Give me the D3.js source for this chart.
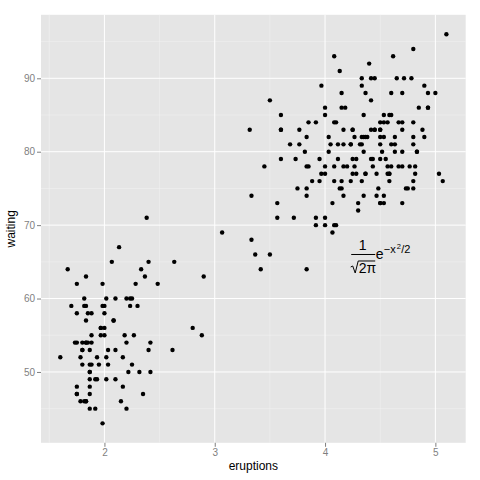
<!DOCTYPE html>
<html>
<head>
<script src="https://cdn.jsdelivr.net/npm/d3@7"></script>
<style>
  body { margin: 0; background: #fff; }
  text { font-family: "Liberation Sans", Arial, sans-serif; }
</style>
</head>
<body>
<script>
// Old Faithful: eruption length (min) and waiting time (min)
const eruptions = [3.600,1.800,3.333,2.283,4.533,2.883,4.700,3.600,1.950,4.350,1.833,3.917,4.200,1.750,4.700,2.167,1.750,4.800,1.600,4.250,
1.800,1.750,3.450,3.067,4.533,3.600,1.967,4.083,3.850,4.433,4.300,4.467,3.367,4.033,3.833,2.017,1.867,4.833,1.833,4.783,
4.350,1.883,4.567,1.750,4.533,3.317,3.833,2.100,4.633,2.000,4.800,4.716,1.833,4.833,1.733,4.883,3.717,1.667,4.567,4.317,
2.233,4.500,1.750,4.800,1.817,4.400,4.167,4.700,2.067,4.700,4.033,1.967,4.500,4.000,1.983,5.067,2.017,4.567,3.883,3.600,
4.133,4.333,4.100,2.633,4.067,4.933,3.950,4.517,2.167,4.000,2.200,4.333,1.867,4.817,1.833,4.300,4.667,3.750,1.867,4.900,
2.483,4.367,2.100,4.500,4.050,1.867,4.700,1.783,4.850,3.683,4.733,2.300,4.900,4.417,1.700,4.633,2.317,4.600,1.817,4.417,
2.617,4.067,4.250,1.967,4.600,3.767,1.917,4.500,2.267,4.650,1.867,4.167,2.800,4.333,1.833,4.383,1.883,4.933,2.033,3.733,
4.233,2.233,4.533,4.817,4.333,1.983,4.633,2.017,5.100,1.800,5.033,4.000,2.400,4.600,3.567,4.000,4.500,4.083,1.800,3.967,
2.200,4.150,2.000,3.833,3.500,4.583,2.367,5.000,1.933,4.617,1.917,2.083,4.583,3.333,4.167,4.333,4.500,2.417,4.000,4.167,
1.883,4.583,4.250,3.767,2.033,4.433,4.083,1.833,4.417,2.183,4.800,1.833,4.800,4.100,3.966,4.233,3.500,4.366,2.250,4.667,
2.100,4.350,4.133,1.867,4.600,1.783,4.367,3.850,1.933,4.500,2.383,4.700,1.867,3.833,3.417,4.233,2.400,4.800,2.000,4.150,
1.867,4.267,1.750,4.483,4.000,4.117,4.083,4.267,3.917,4.550,4.083,2.417,4.183,2.217,4.450,1.883,1.850,4.283,3.950,2.333,
4.150,2.350,4.933,2.900,4.583,3.833,2.083,4.367,2.133,4.350,2.200,4.450,3.567,4.500,4.150,3.817,3.917,4.450,2.000,4.283,
4.767,4.533,1.850,4.250,1.983,2.250,4.750,4.117,2.150,4.417,1.817,4.467];
const waiting = [79,54,74,62,85,55,88,85,51,85,54,84,78,47,83,52,62,84,52,79,
51,47,78,69,74,83,55,76,78,79,73,77,66,80,74,52,48,80,59,90,
80,58,84,58,73,83,64,53,82,59,75,90,54,80,54,83,71,64,77,81,
59,84,48,82,60,92,78,78,65,73,82,56,79,71,62,76,60,78,76,83,
75,82,70,65,73,88,76,80,48,86,60,90,50,78,63,72,84,75,51,82,
62,88,49,83,81,47,84,52,86,81,75,59,89,79,59,81,50,85,59,87,
53,69,77,56,88,81,45,82,55,90,45,83,56,89,46,82,51,86,53,79,
81,60,82,77,76,59,80,49,96,53,77,77,65,81,71,70,81,93,53,89,
45,86,58,78,66,76,63,88,52,93,49,57,77,68,81,81,73,50,85,74,
55,77,83,83,51,78,84,46,83,55,81,57,76,84,77,81,87,77,51,78,
60,82,91,53,78,46,77,84,49,83,71,80,49,75,64,76,53,94,55,76,
50,82,54,75,78,79,78,78,70,79,70,54,86,50,90,54,54,77,79,64,
75,47,86,63,85,82,57,82,67,74,54,83,73,73,88,80,71,83,56,79,
78,84,58,83,43,60,75,81,46,90,46,74];

const xTicks = [2, 3, 4, 5];
const yTicks = [50, 60, 70, 80, 90];
const xMinor = [1.5, 2.5, 3.5, 4.5];
const yMinor = [45, 55, 65, 75, 85, 95];
const note = { x: 4.5, y: 66 };

const W = 480, H = 480;
const m = { left: 41, right: 14.3, top: 14.8, bottom: 37.2 };

const svg = d3.select("body").append("svg").attr("width", W).attr("height", H);

const xExt = d3.extent(eruptions), yExt = d3.extent(waiting);
const xPad = (xExt[1] - xExt[0]) * 0.05, yPad = (yExt[1] - yExt[0]) * 0.05;
const x = d3.scaleLinear().domain([xExt[0] - xPad, xExt[1] + xPad]).range([m.left, W - m.right]);
const y = d3.scaleLinear().domain([yExt[0] - yPad, yExt[1] + yPad]).range([H - m.bottom, m.top]);

// panel
svg.append("rect")
    .attr("x", m.left).attr("y", m.top)
    .attr("width", W - m.left - m.right).attr("height", H - m.top - m.bottom)
    .attr("fill", "#e5e5e5");

const grid = svg.append("g");
grid.selectAll(".vmin").data(xMinor).enter().append("line")
    .attr("x1", d => x(d)).attr("x2", d => x(d))
    .attr("y1", m.top).attr("y2", H - m.bottom)
    .attr("stroke", "#f2f2f2").attr("stroke-width", 0.5);
grid.selectAll(".hmin").data(yMinor).enter().append("line")
    .attr("y1", d => y(d)).attr("y2", d => y(d))
    .attr("x1", m.left).attr("x2", W - m.right)
    .attr("stroke", "#f2f2f2").attr("stroke-width", 0.5);
grid.selectAll(".vmaj").data(xTicks).enter().append("line")
    .attr("x1", d => x(d)).attr("x2", d => x(d))
    .attr("y1", m.top).attr("y2", H - m.bottom)
    .attr("stroke", "#fff").attr("stroke-width", 1);
grid.selectAll(".hmaj").data(yTicks).enter().append("line")
    .attr("y1", d => y(d)).attr("y2", d => y(d))
    .attr("x1", m.left).attr("x2", W - m.right)
    .attr("stroke", "#fff").attr("stroke-width", 1);

// axes
const xAxis = svg.append("g")
    .attr("transform", `translate(0,${H - m.bottom})`)
    .call(d3.axisBottom(x).tickValues(xTicks).tickFormat(d3.format("d")).tickSize(4).tickPadding(2));
const yAxis = svg.append("g")
    .attr("transform", `translate(${m.left},0)`)
    .call(d3.axisLeft(y).tickValues(yTicks).tickFormat(d3.format("d")).tickSize(4).tickPadding(2));
[xAxis, yAxis].forEach(a => {
  a.select(".domain").remove();
  a.selectAll("line").attr("stroke", "#7f7f7f");
  a.selectAll("text").attr("fill", "#7f7f7f").style("font-size", "10px")
      .style("font-family", "'Liberation Sans', Arial, sans-serif");
});

svg.append("text").attr("x", (m.left + W - m.right) / 2).attr("y", 470)
    .attr("text-anchor", "middle").style("font-size", "12px").text("eruptions");
svg.append("text")
    .attr("transform", `translate(15,${(m.top + H - m.bottom) / 2}) rotate(-90)`)
    .attr("text-anchor", "middle").style("font-size", "12px").text("waiting");

// points
svg.append("g").selectAll("circle")
    .data(d3.zip(eruptions, waiting))
    .enter().append("circle")
    .attr("cx", d => x(d[0])).attr("cy", d => y(d[1]))
    .attr("r", 2.2).attr("fill", "#000");

// formula 1/sqrt(2*pi) e^(-x^2/2)
const cx = x(note.x), cy = y(note.y);
const f = svg.append("g").attr("transform", `translate(${cx},${cy})`);
f.append("text").attr("x", -17.5).attr("y", -4.5).attr("text-anchor", "middle")
    .style("font-size", "14px").text("1");
f.append("line").attr("x1", -29).attr("x2", -5).attr("y1", 0).attr("y2", 0)
    .attr("stroke", "#000").attr("stroke-width", 1);
f.append("path")
    .attr("d", "M-29.5,12.5 L-27.5,11.5 L-25,18.5 L-22,6.5 L-5,6.5")
    .attr("fill", "none").attr("stroke", "#000").attr("stroke-width", 1);
f.append("text").attr("x", -21.5).attr("y", 18.5).style("font-size", "14px").text("2π");
f.append("text").attr("x", -4.5).attr("y", 4.5).style("font-size", "14px").text("e");
f.append("text").attr("x", 3.5).attr("y", -1.5).style("font-size", "11px").text("−x");
f.append("text").attr("x", 16.5).attr("y", -5.5).style("font-size", "7.5px").text("2");
f.append("text").attr("x", 21).attr("y", -1.5).style("font-size", "11px").text("/2");
</script>
</body>
</html>
